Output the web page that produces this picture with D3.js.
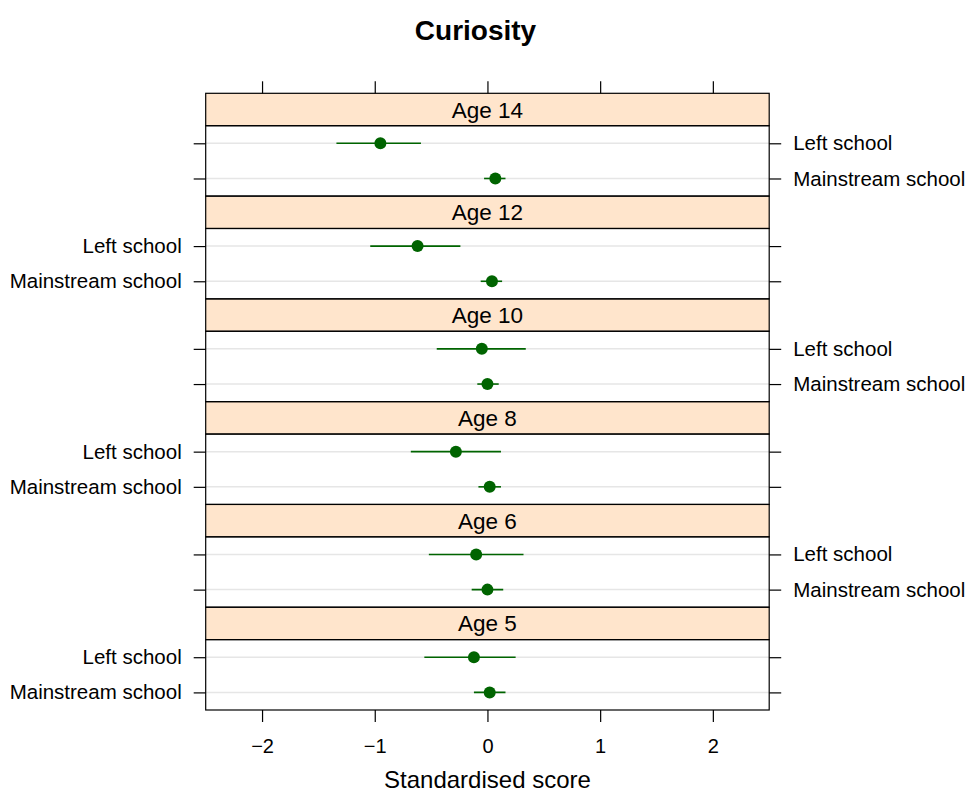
<!DOCTYPE html>
<html>
<head>
<meta charset="utf-8">
<script src="https://cdn.jsdelivr.net/npm/d3@7"></script>
<style>
  body { margin: 0; background: #fff; }
  svg text { font-family: "Liberation Sans", Arial, sans-serif; }
</style>
</head>
<body>
<div id="chart"></div>
<script>
// Curiosity: dot plot with intervals, one panel per age (bottom to top)

const ages = ['Age 5', 'Age 6', 'Age 8', 'Age 10', 'Age 12', 'Age 14'];
const groups = ['Left school', 'Mainstream school'];

const leftEst = [-0.12, -0.10, -0.28, -0.05, -0.62, -0.95];
const leftLo = [-0.56, -0.52, -0.68, -0.45, -1.04, -1.34];
const leftHi = [0.25, 0.32, 0.12, 0.34, -0.24, -0.59];

const mainEst = [0.02, 0.00, 0.02, 0.00, 0.04, 0.07];
const mainLo = [-0.12, -0.14, -0.08, -0.09, -0.06, -0.03];
const mainHi = [0.16, 0.14, 0.12, 0.10, 0.13, 0.16];

const xTicks = [-2, -1, 0, 1, 2];

const width = 966;
const height = 792;
const plotLeft = 205.7;
const plotRight = 769.2;
const plotTop = 93.3;
const plotBottom = 710;
const stripH = 32.4;
const tickLen = 12;
const font = '"Liberation Sans", Arial, sans-serif';
const green = '#006400';

const svg = d3.select('#chart')
    .append('svg')
    .attr('width', width)
    .attr('height', height);

const x = d3.scaleLinear()
    .domain([-2.5, 2.5])
    .range([plotLeft, plotRight]);

// panels, top one is the last age
const panel = d3.scaleBand()
    .domain(ages.slice().reverse())
    .range([plotTop, plotBottom]);

// Title
svg.append('text')
    .attr('x', 475.5)
    .attr('y', 40)
    .attr('text-anchor', 'middle')
    .attr('font-size', '28px')
    .attr('font-weight', 'bold')
    .text('Curiosity');

ages.forEach((age, i) => {
    const top = panel(age);
    const bottom = top + panel.bandwidth();
    const g = svg.append('g');

    const y = d3.scalePoint()
        .domain(groups)
        .range([top + stripH, bottom])
        .padding(0.5);

    const rows = [
        { group: groups[0], est: leftEst[i], lo: leftLo[i], hi: leftHi[i] },
        { group: groups[1], est: mainEst[i], lo: mainLo[i], hi: mainHi[i] },
    ];

    // Strip
    g.append('rect')
        .attr('x', plotLeft)
        .attr('y', top)
        .attr('width', plotRight - plotLeft)
        .attr('height', stripH)
        .attr('fill', '#ffe5cc')
        .attr('stroke', '#000')
        .attr('stroke-width', 1.2);

    g.append('text')
        .attr('x', (plotLeft + plotRight) / 2)
        .attr('y', top + stripH / 2 + 8)
        .attr('text-anchor', 'middle')
        .attr('font-size', '22.5px')
        .text(age);

    // Grid lines
    g.append('g')
        .selectAll('line')
        .data(groups)
        .join('line')
        .attr('x1', plotLeft)
        .attr('x2', plotRight)
        .attr('y1', d => y(d))
        .attr('y2', d => y(d))
        .attr('stroke', '#e6e6e6')
        .attr('stroke-width', 1.5);

    // Intervals
    g.append('g')
        .selectAll('line')
        .data(rows)
        .join('line')
        .attr('x1', d => x(d.lo))
        .attr('x2', d => x(d.hi))
        .attr('y1', d => y(d.group))
        .attr('y2', d => y(d.group))
        .attr('stroke', green)
        .attr('stroke-width', 1.6);

    // Points
    g.append('g')
        .selectAll('circle')
        .data(rows)
        .join('circle')
        .attr('cx', d => x(d.est))
        .attr('cy', d => y(d.group))
        .attr('r', 6)
        .attr('fill', green);

    // Panel border
    g.append('rect')
        .attr('x', plotLeft)
        .attr('y', top + stripH)
        .attr('width', plotRight - plotLeft)
        .attr('height', bottom - top - stripH)
        .attr('fill', 'none')
        .attr('stroke', '#000')
        .attr('stroke-width', 1.2);

    // Y axes: labels alternate left/right starting from the bottom panel
    const labelsLeft = i % 2 === 0;
    const leftAxis = d3.axisLeft(y).tickSize(tickLen).tickPadding(12);
    const rightAxis = d3.axisRight(y).tickSize(tickLen).tickPadding(12);
    if (labelsLeft) rightAxis.tickFormat(() => '');
    else leftAxis.tickFormat(() => '');

    [[leftAxis, plotLeft], [rightAxis, plotRight]].forEach(([ax, pos]) => {
        const a = g.append('g')
            .attr('transform', `translate(${pos},0)`)
            .call(ax);
        a.select('.domain').remove();
        a.selectAll('line').attr('stroke', '#000').attr('stroke-width', 1.2);
        a.selectAll('text')
            .attr('font-size', '20.5px')
            .attr('font-family', font)
            .attr('fill', '#000');
    });
});

// X axes
const bottomAxis = svg.append('g')
    .attr('transform', `translate(0,${plotBottom})`)
    .call(d3.axisBottom(x).tickValues(xTicks).tickSize(tickLen).tickPadding(17)
        .tickFormat(d3.format('d')));

const topAxis = svg.append('g')
    .attr('transform', `translate(0,${plotTop})`)
    .call(d3.axisTop(x).tickValues(xTicks).tickSize(tickLen).tickFormat(() => ''));

[bottomAxis, topAxis].forEach(a => {
    a.select('.domain').remove();
    a.selectAll('line').attr('stroke', '#000').attr('stroke-width', 1.2);
    a.selectAll('text')
        .attr('font-size', '20px')
        .attr('font-family', font)
        .attr('fill', '#000');
});

// X axis title
svg.append('text')
    .attr('x', (plotLeft + plotRight) / 2)
    .attr('y', 788)
    .attr('text-anchor', 'middle')
    .attr('font-size', '24px')
    .text('Standardised score');
</script>
</body>
</html>
